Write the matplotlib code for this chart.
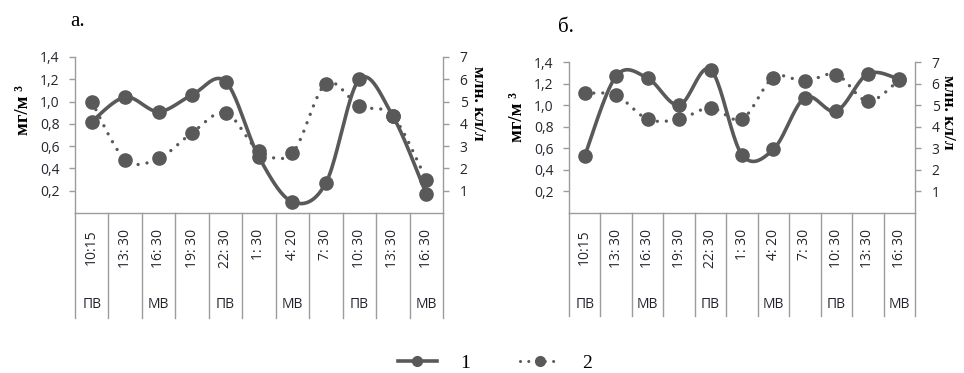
import numpy as np
import matplotlib
matplotlib.use('Agg')
import matplotlib.pyplot as plt
import matplotlib.transforms as mtransforms
from matplotlib.lines import Line2D

# times of sampling and tide phase (ПВ / МВ)
times = ['10:15', '13: 30', '16: 30', '19: 30', '22: 30', '1: 30', '4: 20', '7: 30', '10: 30', '13: 30', '16: 30']
phase = ['ПВ', '', 'МВ', '', 'ПВ', '', 'МВ', '', 'ПВ', '', 'МВ']

# panel а: 1 - mg/m3 (left axis), 2 - mln cells/l (right axis)
a_mg = [0.82, 1.04, 0.91, 1.06, 1.18, 0.50, 0.10, 0.27, 1.20, 0.87, 0.17]
a_cells = [5.0, 2.4, 2.45, 3.6, 4.5, 2.8, 2.7, 5.8, 4.8, 4.35, 1.5]

# panel б
b_mg = [0.53, 1.27, 1.25, 1.00, 1.33, 0.54, 0.59, 1.07, 0.945, 1.29, 1.24]
b_cells = [5.55, 5.45, 4.35, 4.35, 4.88, 4.35, 6.28, 6.1, 6.42, 5.18, 6.18]

plt.rcParams['font.family'] = ['Open Sans', 'DejaVu Sans']
serif = ['Liberation Serif', 'DejaVu Serif']
gray = '#595959'
axcol = '#9c9c9c'
tickcol = '#25252f'


def smooth(y, n=24):
    # Excel-like smoothed line (Catmull-Rom bezier)
    x = np.arange(len(y), dtype=float)
    y = np.asarray(y, dtype=float)
    P = np.column_stack([x, y])
    out = []
    for i in range(len(P) - 1):
        p0 = P[i - 1] if i > 0 else P[i]
        p1, p2 = P[i], P[i + 1]
        p3 = P[i + 2] if i + 2 < len(P) else P[i + 1]
        c1 = p1 + (p2 - p0) / 6.0
        c2 = p2 - (p3 - p1) / 6.0
        t = np.linspace(0, 1, n)[:, None]
        seg = ((1 - t) ** 3) * p1 + 3 * ((1 - t) ** 2) * t * c1 + 3 * (1 - t) * t ** 2 * c2 + t ** 3 * p2
        out.append(seg if i == 0 else seg[1:])
    s = np.vstack(out)
    return s[:, 0], s[:, 1]


fig = plt.figure(figsize=(9.64, 3.73), dpi=100)


def panel(rect, mg, cells, title, title_xy, ylab_x, rlab_x, lab_y, bottom_px):
    ax = fig.add_axes(rect)
    ax2 = ax.twinx()
    for a in (ax, ax2):
        a.set_xlim(-0.5, len(times) - 0.5)
        a.patch.set_visible(False)
        for s in a.spines.values():
            s.set_visible(False)
    ax.set_ylim(0, 1.4)
    ax2.set_ylim(0, 7)
    ax.spines['left'].set_visible(True)
    ax.spines['bottom'].set_visible(True)
    ax2.spines['right'].set_visible(True)
    for s in (ax.spines['left'], ax.spines['bottom'], ax2.spines['right']):
        s.set_color(axcol)
        s.set_linewidth(1.0)
    ax.set_yticks([0.2, 0.4, 0.6, 0.8, 1.0, 1.2, 1.4])
    ax.set_yticklabels(['0,2', '0,4', '0,6', '0,8', '1,0', '1,2', '1,4'])
    ax2.set_yticks([1, 2, 3, 4, 5, 6, 7])
    ax.set_xticks([])
    ax2.set_xticks([])
    ax.tick_params(axis='y', direction='out', length=4, width=1, color=axcol,
                   labelsize=10, labelcolor=tickcol, pad=7)
    ax2.tick_params(axis='y', direction='out', length=4, width=1, color=axcol,
                    labelsize=10, labelcolor=tickcol, pad=8)

    xs, ys = smooth(mg)
    ax.plot(xs, ys, color=gray, lw=2.6, solid_capstyle='round', zorder=3)
    ax.plot(range(len(mg)), mg, 'o', color=gray, ms=9.5, zorder=4)
    xs, ys = smooth(cells)
    ax2.plot(xs, ys, color=gray, lw=2.4, linestyle=(0, (0.01, 2.7)),
             dash_capstyle='round', zorder=3)
    ax2.plot(range(len(cells)), cells, 'o', color=gray, ms=9.5, zorder=4)

    # multi-level category axis below the plot
    H = 373.0
    tr = mtransforms.blended_transform_factory(ax.transData, fig.transFigure)
    for k in range(len(times) + 1):
        ax.plot([k - 0.5, k - 0.5], [1 - 213 / H, 1 - bottom_px / H], color=axcol, lw=1.0,
                transform=tr, clip_on=False)
    for k, (t, p) in enumerate(zip(times, phase)):
        ax.text(k, 1 - 229 / H, t, rotation=90, ha='center', va='top', fontsize=10,
                color=tickcol, transform=tr)
        if p:
            ax.text(k, 1 - 305 / H, p, ha='center', va='center', fontsize=10,
                    color=tickcol, transform=tr)

    fig.text(title_xy[0], title_xy[1], title, family=serif, fontsize=15, ha='left', va='center')
    fig.text(ylab_x, 1 - lab_y[0] / H, 'мг/м ³', family=serif, fontsize=13.5, fontweight='bold',
             rotation=90, ha='center', va='center')
    fig.text(rlab_x, 1 - lab_y[1] / H, 'млн. кл/л', family=serif, fontsize=12.5, fontweight='bold',
             rotation=270, ha='center', va='center')
    return ax


panel([75 / 964, 160 / 373, 368 / 964, 156 / 373], a_mg, a_cells, 'а.',
      (70 / 964, 1 - 22 / 373), 24 / 964, 478 / 964, (110, 103), 318)
panel([569 / 964, 160 / 373, 346 / 964, 151 / 373], b_mg, b_cells, 'б.',
      (558 / 964, 1 - 27 / 373), 517 / 964, 948 / 964, (117, 112), 316)

handles = [Line2D([], [], color=gray, lw=2.6, marker='o', ms=7),
           Line2D([], [], color=gray, lw=2.2, linestyle=(0, (0.01, 2.7)), dash_capstyle='round',
                  marker='o', ms=7)]
fig.legend(handles, ['1', '2'], loc='center', bbox_to_anchor=(495 / 964, 1 - 363 / 373), ncol=2,
           frameon=False, handlelength=2.0, columnspacing=2.6, handletextpad=1.2,
           prop={'family': serif, 'size': 14})

fig.savefig('out.png', dpi=100)
